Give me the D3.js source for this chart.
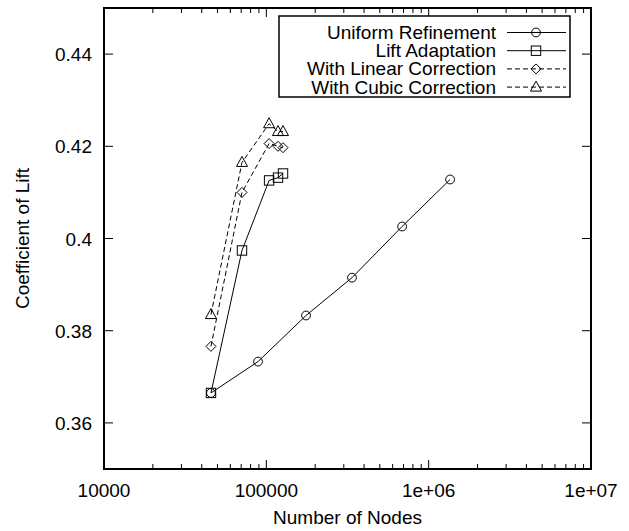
<!DOCTYPE html>
<html>
<head>
<meta charset="utf-8">
<script src="https://cdn.jsdelivr.net/npm/d3@7"></script>
<style>
body { margin: 0; background: #fff; }
text { font-family: "Liberation Sans", Arial, sans-serif; fill: #000; }
</style>
</head>
<body>
<svg id="chart"></svg>
<script>
// data
const seriesNames = ["Uniform Refinement", "Lift Adaptation", "With Linear Correction", "With Cubic Correction"];
const uniformNodes = [45600, 88900, 175600, 337000, 686000, 1355000];
const uniformLift = [0.3665, 0.3733, 0.3833, 0.3915, 0.4026, 0.4128];
const adaptNodes = [45600, 70800, 104000, 118000, 126700];
const adaptLift = [0.3665, 0.3974, 0.4126, 0.4132, 0.4141];
const linearLift = [0.3766, 0.4100, 0.4206, 0.4200, 0.4197];
const cubicLift = [0.3835, 0.4165, 0.4249, 0.4232, 0.4232];
const xTicks = [1e4, 1e5, 1e6, 1e7];
const xTickLabels = ["10000", "100000", "1e+06", "1e+07"];
const yTicks = [0.36, 0.38, 0.40, 0.42, 0.44];
const yTickLabels = ["0.36", "0.38", "0.4", "0.42", "0.44"];

const w = 629, h = 531;
const marginL = 104, marginR = 38, marginT = 8, marginB = 62;
const fs = "19px";

const svg = d3.select("#chart").attr("width", w).attr("height", h);

const xScale = d3.scaleLog().domain([1e4, 1e7]).range([marginL, w - marginR]);
const yScale = d3.scaleLinear().domain([0.35, 0.45]).range([h - marginB, marginT]);

const x0 = marginL, x1 = w - marginR, y0 = h - marginB, y1 = marginT;

// minor ticks for the log axis
let minor = [];
for (let k = 4; k < 7; k++) {
	for (let m = 2; m <= 9; m++) minor.push(m * Math.pow(10, k));
}

const tickG = svg.append("g").attr("stroke", "#000").attr("stroke-width", 1);
minor.forEach(v => {
	tickG.append("line").attr("x1", xScale(v)).attr("x2", xScale(v)).attr("y1", y0).attr("y2", y0 - 5);
	tickG.append("line").attr("x1", xScale(v)).attr("x2", xScale(v)).attr("y1", y1).attr("y2", y1 + 5);
});
xTicks.forEach(v => {
	tickG.append("line").attr("x1", xScale(v)).attr("x2", xScale(v)).attr("y1", y0).attr("y2", y0 - 9);
	tickG.append("line").attr("x1", xScale(v)).attr("x2", xScale(v)).attr("y1", y1).attr("y2", y1 + 9);
});
yTicks.forEach(v => {
	tickG.append("line").attr("x1", x0).attr("x2", x0 + 9).attr("y1", yScale(v)).attr("y2", yScale(v));
	tickG.append("line").attr("x1", x1).attr("x2", x1 - 9).attr("y1", yScale(v)).attr("y2", yScale(v));
});

// tick labels
svg.append("g").selectAll("text").data(xTicks).enter().append("text")
	.attr("x", d => xScale(d))
	.attr("y", y0 + 28)
	.attr("text-anchor", "middle")
	.style("font-size", fs)
	.text((d, i) => xTickLabels[i]);

svg.append("g").selectAll("text").data(yTicks).enter().append("text")
	.attr("x", x0 - 12)
	.attr("y", d => yScale(d) + 7)
	.attr("text-anchor", "end")
	.style("font-size", fs)
	.text((d, i) => yTickLabels[i]);

// axis titles
svg.append("text")
	.attr("x", (x0 + x1) / 2)
	.attr("y", h - 7)
	.attr("text-anchor", "middle")
	.style("font-size", fs)
	.text("Number of Nodes");

svg.append("text")
	.attr("transform", `translate(29, ${(y0 + y1) / 2}) rotate(-90)`)
	.attr("text-anchor", "middle")
	.style("font-size", fs)
	.text("Coefficient of Lift");

// markers
function marker(g, type, cx, cy) {
	if (type === "circle") {
		g.append("circle").attr("cx", cx).attr("cy", cy).attr("r", 4.4);
	} else if (type === "square") {
		g.append("rect").attr("x", cx - 4.7).attr("y", cy - 4.7).attr("width", 9.4).attr("height", 9.4);
	} else if (type === "diamond") {
		g.append("path").attr("d", `M${cx},${cy - 5}L${cx + 5},${cy}L${cx},${cy + 5}L${cx - 5},${cy}Z`);
	} else {
		g.append("path").attr("d", `M${cx},${cy - 6}L${cx + 5.5},${cy + 4}L${cx - 5.5},${cy + 4}Z`);
	}
}

const series = [
	{ name: seriesNames[0], xs: uniformNodes, ys: uniformLift, sym: "circle", dash: null },
	{ name: seriesNames[1], xs: adaptNodes, ys: adaptLift, sym: "square", dash: null },
	{ name: seriesNames[2], xs: adaptNodes, ys: linearLift, sym: "diamond", dash: "5,3" },
	{ name: seriesNames[3], xs: adaptNodes, ys: cubicLift, sym: "triangle", dash: "5,3" }
];

const line = d3.line().x(d => xScale(d[0])).y(d => yScale(d[1]));

series.forEach(s => {
	let pts = s.xs.map((x, i) => [x, s.ys[i]]);
	svg.append("path")
		.attr("d", line(pts))
		.attr("fill", "none")
		.attr("stroke", "#000")
		.attr("stroke-width", 1)
		.attr("stroke-dasharray", s.dash);
	let mg = svg.append("g").attr("fill", "none").attr("stroke", "#000").attr("stroke-width", 1);
	pts.forEach(p => marker(mg, s.sym, xScale(p[0]), yScale(p[1])));
});

// LEGEND
const lg = svg.append("g");
lg.append("rect")
	.attr("x", 279).attr("y", 16).attr("width", 291).attr("height", 81)
	.attr("fill", "#fff").attr("stroke", "#000").attr("stroke-width", 1.5);

series.forEach((s, i) => {
	let ly = 32.5 + i * 18.2;
	lg.append("text")
		.attr("x", 496)
		.attr("y", ly + 6.5)
		.attr("text-anchor", "end")
		.style("font-size", fs)
		.text(s.name);
	lg.append("line")
		.attr("x1", 507).attr("x2", 566)
		.attr("y1", ly).attr("y2", ly)
		.attr("stroke", "#000").attr("stroke-width", 1)
		.attr("stroke-dasharray", s.dash);
	let mg = lg.append("g").attr("fill", "none").attr("stroke", "#000").attr("stroke-width", 1);
	marker(mg, s.sym, 536, ly);
});

// frame
svg.append("rect")
	.attr("x", x0).attr("y", y1).attr("width", x1 - x0).attr("height", y0 - y1)
	.attr("fill", "none").attr("stroke", "#000").attr("stroke-width", 2);
</script>
</body>
</html>
